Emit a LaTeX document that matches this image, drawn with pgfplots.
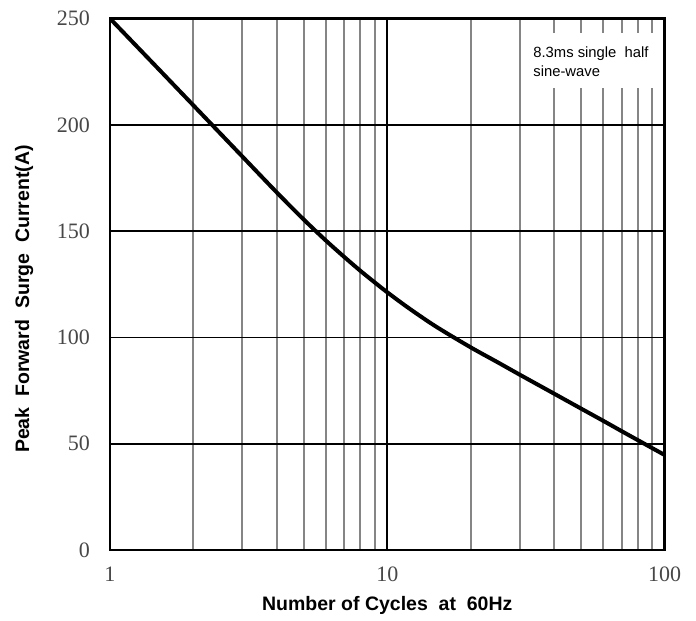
\documentclass[border=0pt]{standalone}
\usepackage{pgfplots}
\pgfplotsset{compat=1.18}
\usepackage{fontspec}
\setmainfont{Liberation Serif}
\newfontfamily\arial{Liberation Sans}
\begin{document}
\begin{tikzpicture}[x=1pt,y=1pt]
\useasboundingbox (-110,-71) rectangle (586,550);
\begin{axis}[
  at={(0,0)}, anchor=south west,
  scale only axis, width=554.6pt, height=531.5pt,
  xmode=log, log basis x=10,
  xmin=1, xmax=100, ymin=0, ymax=250,
  xtick={1,10,100}, xticklabels={1,10,100},
  minor xtick={2,3,4,5,6,7,8,9,20,30,40,50,60,70,80,90},
  ytick={0,50,100,150,200,250},
  yticklabels={0,50,100,150,200,250},
  major tick length=0pt, minor tick length=0pt,
  xmajorgrids, xminorgrids, ymajorgrids,
  major grid style={black, line width=1.7pt},
  minor grid style={black!48, line width=2pt},
  axis line style={black, line width=2.6pt},
  tick label style={font=\fontsize{22}{26}\selectfont, text=black!72, inner sep=0pt},
  xticklabel style={anchor=north, yshift=-17pt},
  yticklabel style={anchor=east, xshift=-20pt},
  /pgf/number format/assume math mode=true,
  xlabel={Number of Cycles\ \ at\ \ 60Hz},
  ylabel={Peak\ \ Forward\ \ Surge\ \ Current(A)},
  label style={font=\arial\bfseries\fontsize{19.5}{23}\selectfont, text=black},
  xlabel style={at={(axis description cs:0.5,-0.105)}, anchor=center},
  ylabel style={at={(axis description cs:-0.155,0.472)}, anchor=center, rotate=0},
  clip=true,
]
\addplot[black, line width=4pt, smooth, tension=0.5, line join=round] coordinates {
  (1,250) (1.5,226.1) (2,209.1) (3,185.1) (4,168.1) (5,155.4) (6,145.6)
  (7,137.8) (8,131.3) (9,125.9) (10,121.2) (12,113.6) (15,105.05)
  (20,95.3) (25,88.3) (30,82.5) (40,73.5) (50,66.5) (60,60.8) (70,55.9)
  (80,51.7) (90,48.0) (100,44.7)
};
\fill[white] (rel axis cs:0.748,0.869) rectangle (rel axis cs:0.9955,0.973);
\node[anchor=base west, font=\arial\fontsize{14.8}{19}\selectfont, inner sep=0pt]
  at (rel axis cs:0.763,0.9257) {8.3ms\ single\ \ half};
\node[anchor=base west, font=\arial\fontsize{14.8}{19}\selectfont, inner sep=0pt]
  at (rel axis cs:0.763,0.890) {sine-wave};
\end{axis}
\end{tikzpicture}
\end{document}
